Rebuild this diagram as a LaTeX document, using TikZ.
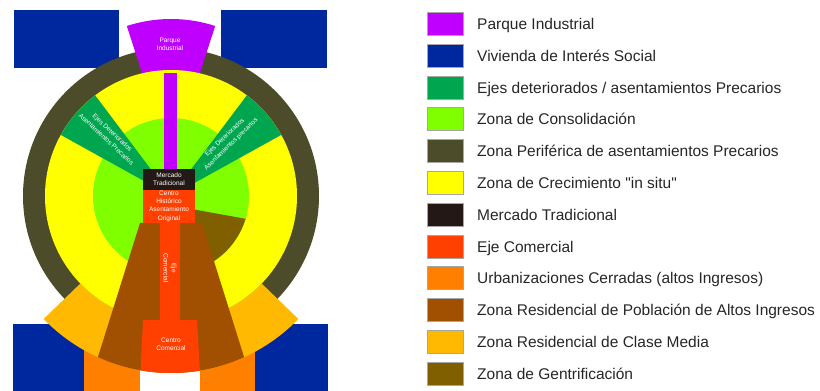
\documentclass[tikz,border=0pt]{standalone}
\usepackage{fontspec}
\setmainfont{Liberation Sans}[Ligatures=TeXOff]
\definecolor{parque}{HTML}{C000FF}
\definecolor{viv}{HTML}{00289E}
\definecolor{ejes}{HTML}{00A550}
\definecolor{cons}{HTML}{80FF00}
\definecolor{peri}{HTML}{4C4C2A}
\definecolor{crec}{HTML}{FFFF00}
\definecolor{merc}{HTML}{231816}
\definecolor{ejec}{HTML}{FF4000}
\definecolor{urb}{HTML}{FF8000}
\definecolor{altos}{HTML}{A05000}
\definecolor{media}{HTML}{FFB900}
\definecolor{gent}{HTML}{7F5F00}
\begin{document}
\begin{tikzpicture}[x=1pt,y=1pt,
  small/.style={text=white, font=\fontsize{6.5}{8.3}\selectfont, align=center, inner sep=0pt},
  diag/.style={small, font=\fontsize{6.5}{9}\selectfont},
  legbox/.style={draw=gray!70, line width=0.6pt, minimum width=36pt, minimum height=23pt, inner sep=0pt, anchor=north west},
  legtext/.style={font=\fontsize{15.5}{18}\selectfont, anchor=base west, inner sep=0pt, text=black!85}]
\useasboundingbox (0,0) rectangle (820,391);
\coordinate (C) at (171,195);
% blue and orange blocks
\fill[viv] (14,323) rectangle (119,381);
\fill[viv] (221,323) rectangle (327,381);
\fill[viv] (13,0) rectangle (84,67);
\fill[viv] (255,0) rectangle (328,67);
\fill[urb] (84,0) rectangle (140,51);
\fill[urb] (200,0) rectangle (255,51);
% rings
\fill[peri] (C) circle[radius=148];
\fill[parque] (171,229) -- ++(72:143) arc[start angle=72,end angle=108,radius=143] -- cycle;
\fill[media,shift={(171,195)}] (224:126) -- (224:177) arc[start angle=224,end angle=316,radius=177] -- (316:126) arc[start angle=316,end angle=224,radius=126] -- cycle;
\fill[crec] (C) circle[radius=126];
\fill[cons] (C) circle[radius=78];
\fill[ejes,shift={(171,195)}] (0,0) -- (127:126) arc[start angle=127,end angle=151,radius=126] -- cycle;
\fill[ejes,shift={(171,195)}] (0,0) -- (29:126) arc[start angle=29,end angle=53,radius=126] -- cycle;
\fill[gent,shift={(171,195)}] (15,-12) -- (-17:78) arc[start angle=-17,end angle=-60,radius=78] -- cycle;
\fill[altos,shift={(171,195)}] (-31,-27) -- (31,-27) -- (-65.6:177) arc[start angle=-65.6,end angle=-114.4,radius=177] -- cycle;
% centre pieces
\fill[ejec] (143,168) rectangle (195,201);
\fill[merc] (143,201) rectangle (195,222);
\fill[parque] (164,222) rectangle (177,318);
\fill[ejec] (160,71) rectangle (180,168);
\fill[ejec,shift={(171,195)}] (-28,-124) -- (26,-124) -- (-80.6:177) arc[start angle=-80.6,end angle=-99.9,radius=177] -- cycle;
% labels
\node[small] (lpi) at (170,347) {Parque\\Industrial};
\node[small] (lmt) at (169,211.5) {Mercado\\Tradicional};
\node[small] (lch) at (169,185) {Centro\\Histórico\\Asentamiento\\Original};
\node[small, rotate=-90] (lec) at (170,123) {Eje\\Comercial};
\node[small] (lcc) at (171,47) {Centro\\Comercial};
\node[diag, rotate=-43] (led1) at (109.5,255) {Ejes Deteriorados\\Asentamientos Precarios};
\node[diag, rotate=44] (led2) at (228,250) {Ejes Deteriorados\\Asentamientos precarios};
% legend
\foreach \c/\t [count=\i from 0] in {
  parque/{Parque Industrial},
  viv/{Vivienda de Interés Social},
  ejes/{Ejes deteriorados / asentamientos Precarios},
  cons/{Zona de Consolidación},
  peri/{Zona Periférica de asentamientos Precarios},
  crec/{Zona de Crecimiento "in situ"},
  merc/{Mercado Tradicional},
  ejec/{Eje Comercial},
  urb/{Urbanizaciones Cerradas (altos Ingresos)},
  altos/{Zona Residencial de Población de Altos Ingresos},
  media/{Zona Residencial de Clase Media},
  gent/{Zona de Gentrificación}} {
  \node[legbox, fill=\c] (box\i) at (427, 379-31.8*\i) {};
  \node[legtext] (txt\i) at (477, 361.5-31.8*\i) {\t};
}
\end{tikzpicture}
\end{document}
